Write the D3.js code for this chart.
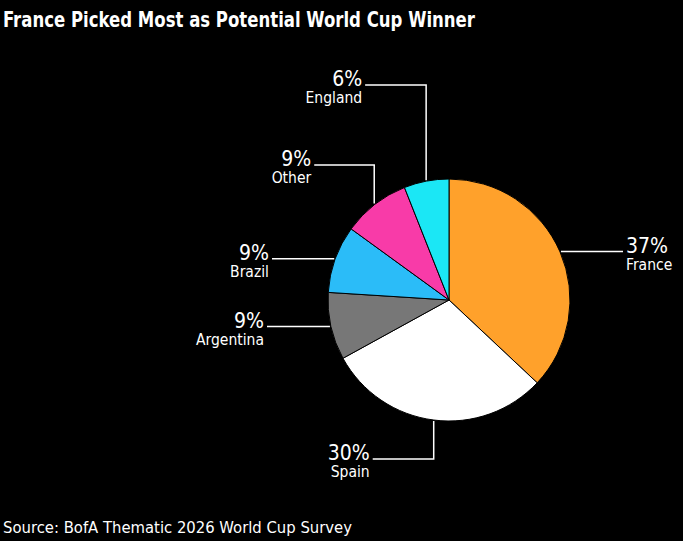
<!DOCTYPE html>
<html>
<head>
<meta charset="utf-8">
<script src="https://cdn.jsdelivr.net/npm/d3@7"></script>
<style>
  body { margin: 0; background: #000; }
  text { font-family: "DejaVu Sans Condensed", "DejaVu Sans", sans-serif; fill: #fff; }
</style>
</head>
<body>
<div id="chart"></div>
<script>
// chart values
var teams = ["France", "Spain", "Argentina", "Brazil", "Other", "England"];
var shares = [37, 30, 9, 9, 9, 6];
var colors = ["#ffa12b", "#ffffff", "#777777", "#2bbcf8", "#f83ba8", "#1be7f5"];

var width = 683, height = 541;
var cx = 449, cy = 300, radius = 121;

// how each leader line leaves the pie: "h" = straight sideways, "v" = up/down then sideways
var leaders = [
  { type: "h", side: 1, toX: 623 },
  { type: "v", side: -1, toY: 459, run: 61 },
  { type: "h", side: -1, toX: 267 },
  { type: "h", side: -1, toX: 272 },
  { type: "v", side: -1, toY: 165, run: 60 },
  { type: "v", side: -1, toY: 85, run: 61 }
];

var svg = d3.select("#chart").append("svg")
    .attr("width", width)
    .attr("height", height)
    .style("background", "#000");

svg.append("text")
    .attr("x", 3)
    .attr("y", 27)
    .attr("textLength", 472)
    .attr("lengthAdjust", "spacingAndGlyphs")
    .style("font-size", "22px")
    .style("font-weight", "bold")
    .text("France Picked Most as Potential World Cup Winner");

svg.append("text")
    .attr("x", 3)
    .attr("y", 533)
    .attr("textLength", 349)
    .attr("lengthAdjust", "spacingAndGlyphs")
    .style("font-size", "16px")
    .text("Source: BofA Thematic 2026 World Cup Survey");

var data = teams.map(function(t, i) { return { team: t, value: shares[i], color: colors[i], leader: leaders[i] }; });

var pie = d3.pie().sort(null).value(function(d) { return d.value; });
var arc = d3.arc().innerRadius(0).outerRadius(radius);
var edge = d3.arc().innerRadius(radius + 1).outerRadius(radius + 1);

var g = svg.append("g").attr("transform", "translate(" + cx + "," + cy + ")");

g.selectAll("path.slice")
  .data(pie(data))
  .enter().append("path")
    .attr("class", "slice")
    .attr("d", arc)
    .attr("fill", function(d) { return d.data.color; })
    .attr("stroke", "#000")
    .attr("stroke-width", 1);

// leader lines and labels
pie(data).forEach(function(d) {
  var p = edge.centroid(d);
  var x0 = cx + p[0], y0 = cy + p[1];
  var L = d.data.leader;
  var pts, end;
  if (L.type === "h") {
    end = [L.toX, y0];
    pts = [[x0, y0], end];
  } else {
    var ex = x0 + L.side * L.run;
    end = [ex, L.toY];
    pts = [[x0, y0], [x0, L.toY], end];
  }
  svg.append("path")
      .attr("d", d3.line()(pts))
      .attr("fill", "none")
      .attr("stroke", "#fff")
      .attr("stroke-width", 1.5);

  var anchor = L.side > 0 ? "start" : "end";
  var tx = end[0] + L.side * 3;
  svg.append("text")
      .attr("x", tx)
      .attr("y", end[1] + 1)
      .attr("text-anchor", anchor)
      .style("font-size", "21px")
      .text(d.data.value + "%");
  svg.append("text")
      .attr("x", tx)
      .attr("y", end[1] + 18)
      .attr("text-anchor", anchor)
      .style("font-size", "15.5px")
      .text(d.data.team);
});
</script>
</body>
</html>
